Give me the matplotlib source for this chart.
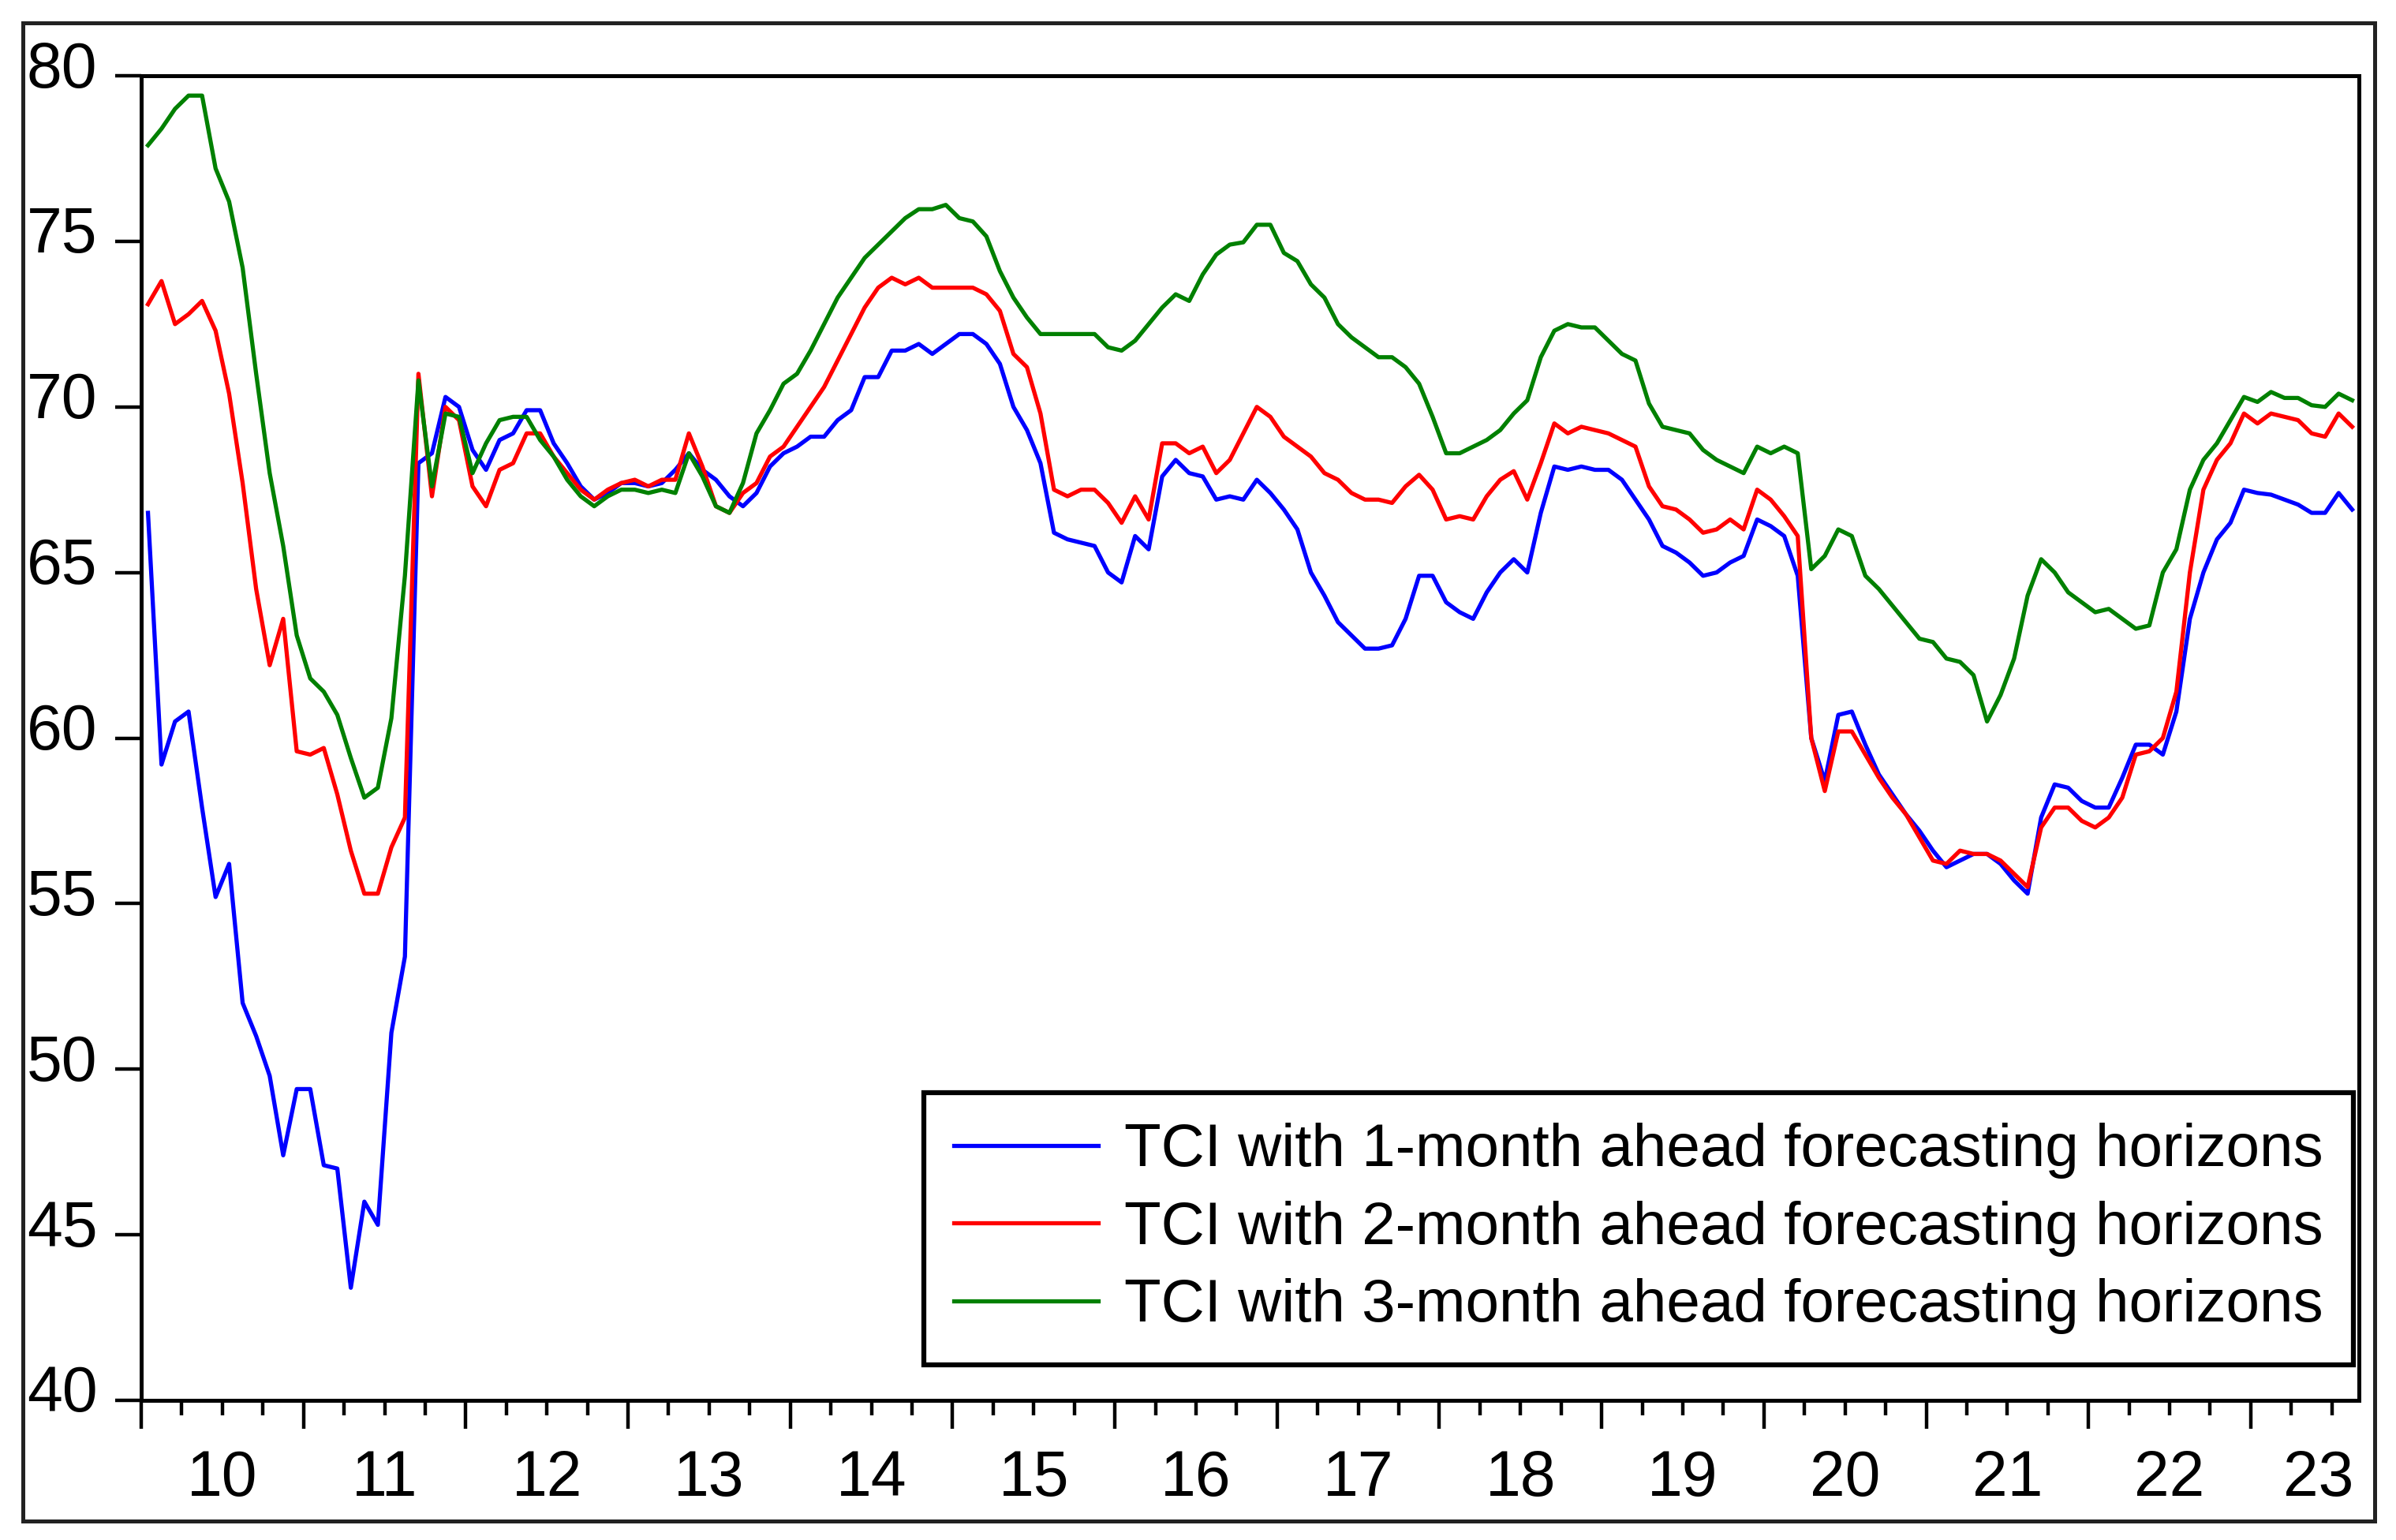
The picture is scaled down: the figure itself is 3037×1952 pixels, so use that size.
import numpy as np
import matplotlib
matplotlib.use('Agg')
import matplotlib.pyplot as plt
from matplotlib import font_manager
from matplotlib.patches import Rectangle
from matplotlib.transforms import ScaledTranslation

# Monthly TCI values, Jan 2010 .. Aug 2023
tci_1m = [66.8, 59.2, 60.5, 60.8, 57.9, 55.2, 56.2, 52.0, 51.0, 49.8,
          47.4, 49.4, 49.4, 47.1, 47.0, 43.4, 46.0, 45.3, 51.1, 53.4,
          68.3, 68.6, 70.3, 70.0, 68.7, 68.1, 69.0, 69.2, 69.9, 69.9,
          68.9, 68.3, 67.6, 67.2, 67.4, 67.7, 67.7, 67.6, 67.7, 68.1,
          68.6, 68.1, 67.8, 67.3, 67.0, 67.4, 68.2, 68.6, 68.8, 69.1,
          69.1, 69.6, 69.9, 70.9, 70.9, 71.7, 71.7, 71.9, 71.6, 71.9,
          72.2, 72.2, 71.9, 71.3, 70.0, 69.3, 68.3, 66.2, 66.0, 65.9,
          65.8, 65.0, 64.7, 66.1, 65.7, 67.9, 68.4, 68.0, 67.9, 67.2,
          67.3, 67.2, 67.8, 67.4, 66.9, 66.3, 65.0, 64.3, 63.5, 63.1,
          62.7, 62.7, 62.8, 63.6, 64.9, 64.9, 64.1, 63.8, 63.6, 64.4,
          65.0, 65.4, 65.0, 66.8, 68.2, 68.1, 68.2, 68.1, 68.1, 67.8,
          67.2, 66.6, 65.8, 65.6, 65.3, 64.9, 65.0, 65.3, 65.5, 66.6,
          66.4, 66.1, 64.9, 60.0, 58.7, 60.7, 60.8, 59.8, 58.9, 58.3,
          57.7, 57.2, 56.6, 56.1, 56.3, 56.5, 56.5, 56.2, 55.7, 55.3,
          57.6, 58.6, 58.5, 58.1, 57.9, 57.9, 58.8, 59.8, 59.8, 59.5,
          60.8, 63.6, 65.0, 66.0, 66.5, 67.5, 67.4, 67.35, 67.2, 67.05,
          66.8, 66.8, 67.4, 66.9]

tci_2m = [73.1, 73.8, 72.5, 72.8, 73.2, 72.3, 70.4, 67.7, 64.5, 62.2,
          63.6, 59.6, 59.5, 59.7, 58.3, 56.6, 55.3, 55.3, 56.7, 57.6,
          71.0, 67.3, 70.0, 69.6, 67.6, 67.0, 68.1, 68.3, 69.2, 69.2,
          68.5, 68.0, 67.5, 67.2, 67.5, 67.7, 67.8, 67.6, 67.8, 67.8,
          69.2, 68.2, 67.0, 66.8, 67.4, 67.7, 68.5, 68.8, 69.4, 70.0,
          70.6, 71.4, 72.2, 73.0, 73.6, 73.9, 73.7, 73.9, 73.6, 73.6,
          73.6, 73.6, 73.4, 72.9, 71.6, 71.2, 69.8, 67.5, 67.3, 67.5,
          67.5, 67.1, 66.5, 67.3, 66.6, 68.9, 68.9, 68.6, 68.8, 68.0,
          68.4, 69.2, 70.0, 69.7, 69.1, 68.8, 68.5, 68.0, 67.8, 67.4,
          67.2, 67.2, 67.1, 67.6, 67.95, 67.5, 66.6, 66.7, 66.6, 67.3,
          67.8, 68.06, 67.2, 68.3, 69.5, 69.2, 69.4, 69.3, 69.2, 69.0,
          68.8, 67.6, 67.0, 66.9, 66.6, 66.2, 66.3, 66.6, 66.3, 67.5,
          67.2, 66.7, 66.1, 60.0, 58.4, 60.2, 60.2, 59.5, 58.8, 58.2,
          57.7, 57.0, 56.3, 56.2, 56.6, 56.5, 56.5, 56.3, 55.9, 55.5,
          57.3, 57.9, 57.9, 57.5, 57.3, 57.6, 58.2, 59.5, 59.6, 60.0,
          61.4, 65.0, 67.5, 68.4, 68.9, 69.8, 69.5, 69.8, 69.7, 69.6,
          69.2, 69.1, 69.8, 69.4]

tci_3m = [77.9, 78.4, 79.0, 79.4, 79.4, 77.2, 76.2, 74.2, 71.0, 68.0,
          65.8, 63.1, 61.8, 61.4, 60.7, 59.4, 58.2, 58.5, 60.6, 64.9,
          70.8, 67.6, 69.8, 69.7, 68.0, 68.9, 69.6, 69.7, 69.7, 69.0,
          68.5, 67.8, 67.3, 67.0, 67.3, 67.5, 67.5, 67.4, 67.5, 67.4,
          68.6, 67.9, 67.0, 66.8, 67.7, 69.2, 69.9, 70.7, 71.0, 71.7,
          72.5, 73.3, 73.9, 74.5, 74.9, 75.3, 75.7, 75.97, 75.97, 76.1,
          75.7, 75.6, 75.15, 74.1, 73.3, 72.7, 72.2, 72.2, 72.2, 72.2,
          72.2, 71.8, 71.7, 72.0, 72.5, 73.0, 73.4, 73.2, 74.0, 74.6,
          74.9, 74.97, 75.5, 75.5, 74.65, 74.4, 73.7, 73.3, 72.5, 72.1,
          71.8, 71.5, 71.5, 71.2, 70.7, 69.7, 68.6, 68.6, 68.8, 69.0,
          69.3, 69.8, 70.2, 71.5, 72.3, 72.5, 72.4, 72.4, 72.0, 71.6,
          71.4, 70.1, 69.4, 69.3, 69.2, 68.7, 68.4, 68.2, 68.0, 68.8,
          68.6, 68.8, 68.6, 65.1, 65.5, 66.3, 66.1, 64.9, 64.5, 64.0,
          63.5, 63.0, 62.9, 62.4, 62.3, 61.9, 60.5, 61.3, 62.4, 64.3,
          65.4, 65.0, 64.4, 64.1, 63.8, 63.9, 63.6, 63.3, 63.4, 65.0,
          65.7, 67.5, 68.4, 68.9, 69.6, 70.3, 70.15, 70.45, 70.27, 70.27,
          70.05, 70.0, 70.4, 70.2]

labels = ['TCI with 1-month ahead forecasting horizons',
          'TCI with 2-month ahead forecasting horizons',
          'TCI with 3-month ahead forecasting horizons']
colors = ['#0000ff', '#ff0000', '#008000']
years = list(range(2010, 2024))
year_labels = [str(y)[2:] for y in years]
y_ticks = [40, 45, 50, 55, 60, 65, 70, 75, 80]

# narrow Arial-like font if there is one, otherwise plain Liberation Sans
try:
    font_manager.findfont(font_manager.FontProperties(family='Liberation Sans Narrow'),
                          fallback_to_default=False)
    plt.rcParams['font.family'] = ['Liberation Sans Narrow']
    tick_size, leg_size = 65, 65
except ValueError:
    plt.rcParams['font.family'] = ['Liberation Sans']
    tick_size, leg_size = 58, 55

fig = plt.figure(figsize=(30.37, 19.52), dpi=100)
ax = fig.add_axes([179 / 3037, 1 - 1775 / 1952, (2990 - 179) / 3037, (1775 - 96) / 1952])

# month centres on a fractional-year axis
t = 2010 + (np.arange(len(tci_1m)) + 0.5) / 12
for series, col, lab in zip([tci_1m, tci_2m, tci_3m], colors, labels):
    ax.plot(t, series, color=col, lw=3.8, label=lab)

x_end = 2023 + 8 / 12
ax.set_xlim(2010, x_end)
ax.set_ylim(40, 80)

# y axis
ax.set_yticks(y_ticks)
ax.set_yticklabels([str(v) for v in y_ticks])
ax.tick_params(axis='y', direction='out', length=24, width=3.2, pad=16,
               labelsize=tick_size, colors='black', right=False)
for lbl in ax.get_yticklabels():
    lbl.set_transform(lbl.get_transform() + ScaledTranslation(0, 0.15, fig.dpi_scale_trans))

# x axis: long ticks at year starts, short ones at quarters, labels mid-year
ax.set_xticks(years)
ax.set_xticklabels([''] * len(years))
quarters = [y + q / 4 for y in years for q in (1, 2, 3) if y + q / 4 < x_end]
ax.set_xticks(quarters, minor=True)
ax.tick_params(axis='x', which='major', direction='out', length=26, width=3.2, top=False)
ax.tick_params(axis='x', which='minor', direction='out', length=14, width=3.2, top=False)
for y, lab in zip(years, year_labels):
    ax.text(min(y + 0.5, x_end - 0.25), -0.0596, lab, transform=ax.get_xaxis_transform(),
            ha='center', va='center', fontsize=tick_size, color='black')

for sp in ax.spines.values():
    sp.set_linewidth(3.6)
    sp.set_color('black')

leg = ax.legend(loc='lower right', bbox_to_anchor=(0.9975, 0.027), borderaxespad=0,
                fontsize=leg_size, handlelength=2.4, handletextpad=0.43,
                labelspacing=0.36, borderpad=0.5, fancybox=False, framealpha=1)
leg.get_frame().set_edgecolor('black')
leg.get_frame().set_linewidth(4.5)

# outer frame round the whole picture
fig.patches.append(Rectangle((29 / 3037, 1 - 1928 / 1952), (3010 - 29) / 3037,
                             (1928 - 29) / 1952, transform=fig.transFigure,
                             fill=False, edgecolor='#222222', linewidth=3.6))

fig.savefig('out.png', dpi=100, facecolor='white')
